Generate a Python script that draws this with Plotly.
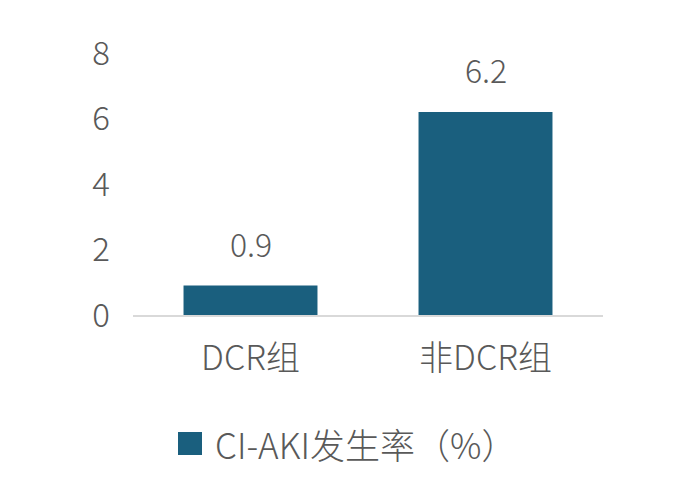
import plotly.graph_objects as go

categories = ["DCR组", "非DCR组"]
values = [0.9, 6.2]
series_name = "CI-AKI发生率（%）"
tick_vals = [0, 2, 4, 6, 8]

bar_color = "#1a5f7e"
text_color = "#595959"
font_family = "Noto Sans CJK SC, Liberation Sans, sans-serif"

PLOT_TOP = 53      # on-screen pixel of plot top
PLOT_H = 262       # plot height in px


def py(screen_y):
    return 1 - (screen_y - PLOT_TOP) / PLOT_H


def px(screen_x):
    return (screen_x - 133) / 470


fig = go.Figure()
fig.add_trace(go.Bar(
    x=categories, y=values, name=series_name,
    marker=dict(color=bar_color, line=dict(width=0)),
    showlegend=False,
))

for c, v in zip(categories, values):
    fig.add_annotation(x=c, y=v, text=f"{v:.1f}", showarrow=False,
                       yanchor="bottom", yshift=18,
                       font=dict(size=32, color=text_color, family=font_family, weight=300))

# legend drawn as swatch + label below the plot
fig.add_shape(type="rect", xref="paper", yref="paper",
              x0=px(178), x1=px(202), y0=py(432), y1=py(455),
              fillcolor=bar_color, line=dict(width=0))
fig.add_annotation(xref="paper", yref="paper",
                   x=px(213), y=py(443),
                   xanchor="left", yanchor="middle", showarrow=False,
                   text=series_name,
                   font=dict(size=35, color=text_color, family=font_family, weight=300))

fig.update_layout(
    width=695, height=482,
    margin=dict(l=125, r=100, t=45, b=175),
    paper_bgcolor="white", plot_bgcolor="white",
    bargap=0.43,
    font=dict(family=font_family, color=text_color, size=32, weight=300),
    xaxis=dict(showline=True, linecolor="#d9d9d9", linewidth=2,
               showgrid=False, ticks="", ticklabelstandoff=12,
               tickfont=dict(size=34, color=text_color, weight=300)),
    yaxis=dict(range=[0, 8], tickvals=tick_vals, showgrid=False, zeroline=False,
               showline=False, ticks="", ticklabelstandoff=22,
               tickfont=dict(size=33, color=text_color, weight=300)),
    showlegend=False,
)

fig.write_html("out.html")
